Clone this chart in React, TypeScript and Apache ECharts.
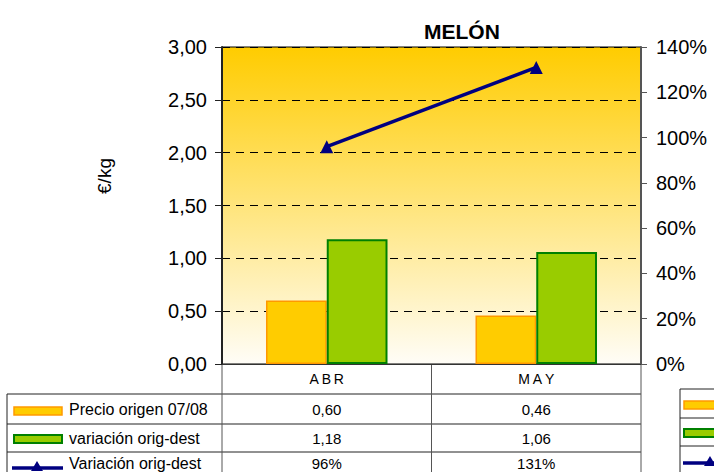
import React, { useEffect, useRef } from "react";
import * as echarts from "echarts";

const categories = ["ABR", "MAY"];
const precioOrigen = [0.6, 0.46];
const variacionOrigDest = [1.18, 1.06];
const variacionPct = [96, 131];
const seriesNames = ["Precio origen 07/08", "variación orig-dest", "Variación orig-dest"];
const leftTicks = { min: 0, max: 3, interval: 0.5 };
const rightTicks = { min: 0, max: 140, interval: 20 };

const FONT = "'Liberation Sans', Arial, sans-serif";
const fmtNum = (v: number) => v.toFixed(2).replace(".", ",");
const fmtPct = (v: number) => `${Math.round(v)}%`;

export default function App() {
  const ref = useRef<HTMLDivElement>(null);
  useEffect(() => {
    if (!ref.current) return;
    const chart = echarts.init(ref.current, undefined, { renderer: "svg" });
    const G = { left: 222, right: 73, top: 47, bottom: 108 };
    chart.setOption({
      animation: false,
      title: {
        text: "MELÓN",
        left: 419,
        top: 16,
        textStyle: { fontFamily: FONT, fontSize: 21, fontWeight: "bold", color: "#000" },
      },
      grid: {
        ...G,
        show: true,
        borderColor: "#000",
        borderWidth: 1,
        backgroundColor: new echarts.graphic.LinearGradient(0, 0, 0, 1, [
          { offset: 0, color: "#FFCC00" },
          { offset: 1, color: "#FFFDF7" },
        ]),
      },
      xAxis: {
        type: "category",
        data: categories,
        axisLine: { lineStyle: { color: "#333", width: 1 } },
        axisTick: { show: false },
        axisLabel: {
          margin: 8,
          fontFamily: FONT,
          fontSize: 14,
          color: "#000",
          formatter: (v: string) => v.split("").join("\u2009"),
        },
      },
      yAxis: [
        {
          type: "value",
          ...leftTicks,
          position: "left",
          axisLine: { show: true, lineStyle: { color: "#222", width: 2 } },
          axisTick: { show: true, length: 7, lineStyle: { color: "#222" } },
          axisLabel: {
            margin: 15,
            fontFamily: FONT,
            fontSize: 20,
            color: "#000",
            formatter: (v: number) => fmtNum(v),
          },
          splitLine: { show: true, lineStyle: { color: "#000", type: [8, 6], width: 1 } },
        },
        {
          type: "value",
          ...rightTicks,
          position: "right",
          axisLine: { show: true, lineStyle: { color: "#555", width: 2 } },
          axisTick: { show: true, length: 6, lineStyle: { color: "#555" } },
          axisLabel: {
            margin: 15,
            fontFamily: FONT,
            fontSize: 20,
            color: "#000",
            formatter: (v: number) => `${v}%`,
          },
          splitLine: { show: false },
        },
      ],
      series: [
        {
          name: seriesNames[0],
          type: "bar",
          data: precioOrigen,
          barGap: "0%",
          barCategoryGap: "42%",
          itemStyle: { color: "#FFCC00", borderColor: "#FF9900", borderWidth: 1.5 },
        },
        {
          name: seriesNames[1],
          type: "bar",
          data: variacionOrigDest,
          itemStyle: { color: "#99CC00", borderColor: "#008000", borderWidth: 2 },
        },
        {
          name: seriesNames[2],
          type: "line",
          yAxisIndex: 1,
          data: variacionPct,
          symbol: "triangle",
          symbolSize: 13,
          lineStyle: { color: "#000080", width: 3.5 },
          itemStyle: { color: "#000080" },
          z: 5,
        },
      ],
    });

    // Data table below the chart
    const xs = categories.map((c) => chart.convertToPixel({ xAxisIndex: 0 }, c) as number);
    const gLeft = G.left;
    const gRight = 714 - G.right;
    const gBottom = 472 - G.bottom;
    const rowLines = [394, 424, 452];
    const rowCenters = [409, 438, 463];
    const lineColor = "#222";
    const els: any[] = [];
    const hline = (x1: number, x2: number, y: number, color = lineColor) =>
      els.push({ type: "line", shape: { x1, y1: y, x2, y2: y }, style: { stroke: color, lineWidth: 1 }, silent: true });
    const vline = (x: number, y1: number, y2: number, color = lineColor) =>
      els.push({ type: "line", shape: { x1: x, y1, x2: x, y2 }, style: { stroke: color, lineWidth: 1 }, silent: true });

    rowLines.forEach((y) => hline(7, gRight, y));
    vline(7, rowLines[0], 472);
    vline(gLeft, gBottom, 472, "#555");
    vline((xs[0] + xs[1]) / 2, gBottom, 472, "#555");
    vline(gRight, gBottom, 472, "#555");

    const rows = [
      precioOrigen.map(fmtNum),
      variacionOrigDest.map(fmtNum),
      variacionPct.map(fmtPct),
    ];
    rows.forEach((vals, r) => {
      vals.forEach((t, i) => {
        els.push({
          type: "text",
          x: xs[i],
          y: rowCenters[r],
          style: { text: t, fontFamily: FONT, fontSize: 15, fill: "#000", align: "center", verticalAlign: "middle" },
          silent: true,
        });
      });
      els.push({
        type: "text",
        x: 69,
        y: rowCenters[r],
        style: { text: seriesNames[r], fontFamily: FONT, fontSize: 16, fill: "#000", align: "left", verticalAlign: "middle" },
        silent: true,
      });
    });

    // legend keys in table
    const keyRect = (x: number, y: number, w: number, h: number, fill: string, stroke: string, lw: number) =>
      els.push({ type: "rect", shape: { x, y, width: w, height: h }, style: { fill, stroke, lineWidth: lw }, silent: true });
    keyRect(14, 407, 48, 8, "#FFCC00", "#FF9900", 1.5);
    keyRect(14, 435, 48, 8, "#99CC00", "#008000", 2);
    els.push({ type: "line", shape: { x1: 12, y1: 468, x2: 63, y2: 468 }, style: { stroke: "#000080", lineWidth: 3.5 }, silent: true });
    els.push({ type: "polygon", shape: { points: [[37, 461], [31, 471], [43, 471]] }, style: { fill: "#000080" }, silent: true });

    // partial legend box at right edge
    hline(680, 714, 389);
    hline(680, 714, 418);
    hline(680, 714, 446);
    vline(680, 389, 472);
    keyRect(684, 401, 40, 8, "#FFCC00", "#FF9900", 1.5);
    keyRect(684, 429, 40, 8, "#99CC00", "#008000", 2);
    els.push({ type: "line", shape: { x1: 683, y1: 463, x2: 720, y2: 463 }, style: { stroke: "#000080", lineWidth: 3.5 }, silent: true });
    els.push({ type: "polygon", shape: { points: [[710, 456], [704, 466], [716, 466]] }, style: { fill: "#000080" }, silent: true });

    // y axis name
    els.push({
      type: "text",
      x: 104,
      y: 176,
      rotation: Math.PI / 2,
      style: { text: "€/kg", fontFamily: FONT, fontSize: 19, fill: "#000", align: "center", verticalAlign: "middle" },
      silent: true,
    });

    chart.setOption({ graphic: { elements: els } });
    return () => chart.dispose();
  }, []);
  return <div ref={ref} style={{ width: 714, height: 472, position: "absolute", left: 0, top: 0 }} />;
}
